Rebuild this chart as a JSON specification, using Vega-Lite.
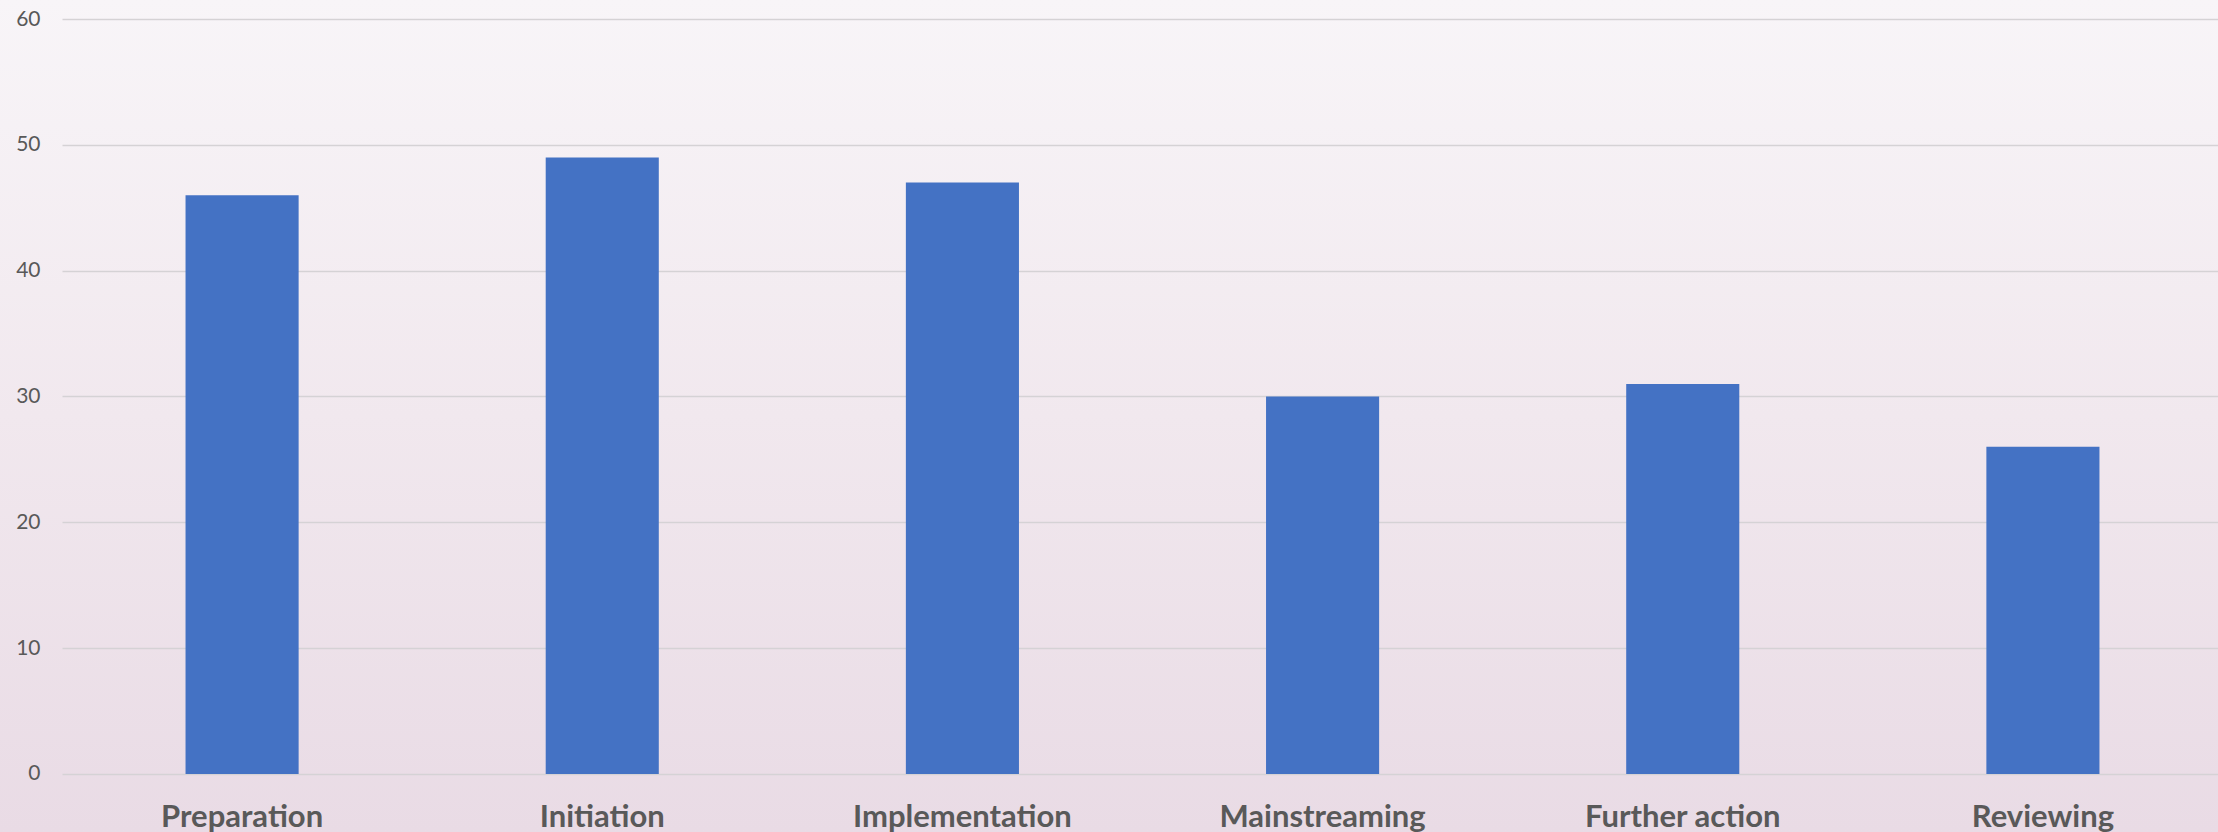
{
  "$schema": "https://vega.github.io/schema/vega-lite/v6.json",
  "width": 2218,
  "height": 832,
  "autosize": {"type": "none"},
  "padding": 0,
  "background": "#f0e7ee",
  "config": {
    "font": "Lato",
    "view": {
      "stroke": null,
      "fill": {
        "gradient": "linear",
        "x1": 0, "y1": 0, "x2": 0, "y2": 1,
        "stops": [
          {"offset": 0, "color": "#f8f5f8"},
          {"offset": 0.5, "color": "#f1e8ee"},
          {"offset": 1, "color": "#e9dbe5"}
        ]
      }
    }
  },
  "data": {
    "values": [
      {"stage": "Preparation", "value": 46},
      {"stage": "Initiation", "value": 49},
      {"stage": "Implementation", "value": 47},
      {"stage": "Mainstreaming", "value": 30},
      {"stage": "Further action", "value": 31},
      {"stage": "Reviewing", "value": 26}
    ]
  },
  "mark": {"type": "bar", "color": "#4472c4"},
  "encoding": {
    "x": {
      "field": "stage",
      "type": "nominal",
      "sort": null,
      "scale": {"range": [62, 2223], "paddingInner": 0.686, "paddingOuter": 0.343},
      "axis": {
        "title": null,
        "orient": "bottom",
        "offset": -58,
        "domain": false,
        "ticks": false,
        "tickSize": 0,
        "grid": false,
        "labelAngle": 0,
        "labelPadding": 52,
        "labelBaseline": "alphabetic",
        "labelFont": "Lato",
        "labelFontSize": 31,
        "labelFontWeight": "bold",
        "labelColor": "#595959",
        "labelLimit": 0
      }
    },
    "y": {
      "field": "value",
      "type": "quantitative",
      "scale": {"domain": [-4.61, 61.51], "nice": false, "zero": false},
      "axis": {
        "title": null,
        "offset": -62,
        "values": [0, 10, 20, 30, 40, 50, 60],
        "domain": false,
        "ticks": false,
        "tickSize": 0,
        "labelPadding": 22,
        "labelFont": "Lato",
        "labelFontSize": 21,
        "labelColor": "#595959",
        "grid": true,
        "gridColor": "#d5d2d5",
        "gridWidth": 1.5
      }
    },
    "y2": {"datum": 0}
  }
}
